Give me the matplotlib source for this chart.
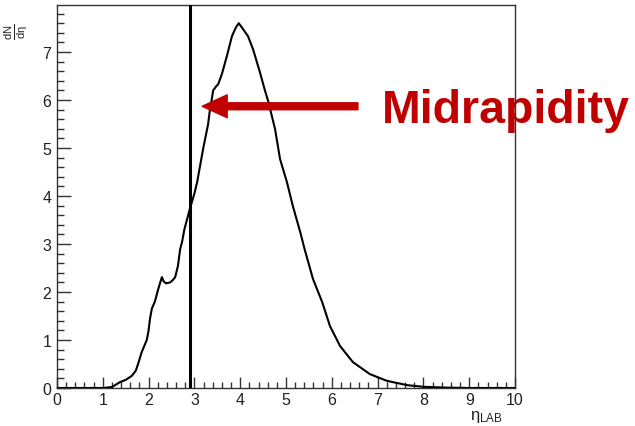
import matplotlib.pyplot as plt
from matplotlib.ticker import MultipleLocator

plt.rcParams["font.family"] = ["Liberation Sans", "DejaVu Sans"]
plt.rcParams["mathtext.fontset"] = "custom"
plt.rcParams["mathtext.rm"] = "Liberation Sans"
plt.rcParams["mathtext.it"] = "Liberation Sans"

# eta_LAB values and dN/deta
eta = [0.0, 1.0, 1.2, 1.37, 1.5, 1.63, 1.72, 1.77, 1.85, 1.96, 2.0, 2.03, 2.07,
       2.14, 2.21, 2.29, 2.33, 2.38, 2.47, 2.53, 2.58, 2.64, 2.69, 2.73, 2.78,
       2.9, 3.0, 3.06, 3.19, 3.3, 3.34, 3.38, 3.41, 3.47, 3.52, 3.6, 3.71, 3.82,
       3.91, 3.97, 4.06, 4.17, 4.28, 4.43, 4.54, 4.62, 4.69, 4.76, 4.87, 5.02,
       5.15, 5.31, 5.41, 5.59, 5.79, 5.96, 6.18, 6.46, 6.83, 7.2, 7.64, 8.0,
       8.5, 9.0, 10.0]
dndeta = [0.0, 0.0, 0.02, 0.12, 0.17, 0.25, 0.36, 0.5, 0.75, 1.0, 1.2, 1.44, 1.65,
          1.81, 2.06, 2.31, 2.22, 2.18, 2.2, 2.25, 2.31, 2.54, 2.9, 3.04, 3.3,
          3.73, 4.05, 4.29, 4.98, 5.5, 5.81, 6.02, 6.2, 6.28, 6.33, 6.54, 6.92, 7.33,
          7.52, 7.6, 7.48, 7.33, 7.06, 6.58, 6.2, 5.95, 5.67, 5.4, 4.77, 4.29,
          3.79, 3.25, 2.88, 2.27, 1.79, 1.29, 0.875, 0.54, 0.29, 0.15, 0.06, 0.025,
          0.008, 0.0, 0.0]
midrapidity = 2.9
arrow_tip = (3.17, 5.87)
arrow_tail = (6.57, 5.87)

red = "#c00000"
frame = "#333333"

fig = plt.figure(figsize=(6.35, 4.27), dpi=100)
ax = fig.add_axes([57 / 635, 38 / 427, 458 / 635, 383 / 427])

ax.plot(eta, dndeta, color="black", lw=1.5, zorder=3)
ax.axvline(midrapidity, color="black", lw=2.2, zorder=3)

ax.annotate(
    "", xy=arrow_tip, xytext=arrow_tail,
    arrowprops=dict(arrowstyle="simple,head_length=18,head_width=16.5,tail_width=5",
                    mutation_scale=1, color=red, shrinkA=0, shrinkB=0),
    zorder=4,
)
ax.text(382 / 635, (427 - 123) / 427, "Midrapidity", transform=fig.transFigure,
        fontsize=33.5, fontweight="bold", color=red, ha="left", va="baseline",
        clip_on=False, zorder=1)

ax.set_xlim(0, 10)
ax.set_ylim(0, 7.98)
ax.xaxis.set_major_locator(MultipleLocator(1))
ax.xaxis.set_minor_locator(MultipleLocator(0.2))
ax.yaxis.set_major_locator(MultipleLocator(1))
ax.yaxis.set_minor_locator(MultipleLocator(0.2))

ax.tick_params(axis="both", which="both", direction="in", colors=frame,
               labelcolor="#222222", labelsize=11.5, width=1.0)
ax.tick_params(axis="x", which="major", length=8, pad=3)
ax.tick_params(axis="x", which="minor", length=4)
ax.tick_params(axis="y", which="major", length=10, pad=4)
ax.tick_params(axis="y", which="minor", length=5)
for s in ax.spines.values():
    s.set_color(frame)
    s.set_linewidth(1.0)

fig.text(16 / 635, 1 - 32 / 427, r"$\frac{dN}{d\eta}$", rotation=90,
         fontsize=11.5, ha="center", va="center", color="#222222")
fig.text(503 / 635, 1 - 425 / 427, "η$_{\\rm LAB}$", fontsize=12,
         ha="right", va="bottom", color="#222222")

fig.savefig("out.png", dpi=100)
